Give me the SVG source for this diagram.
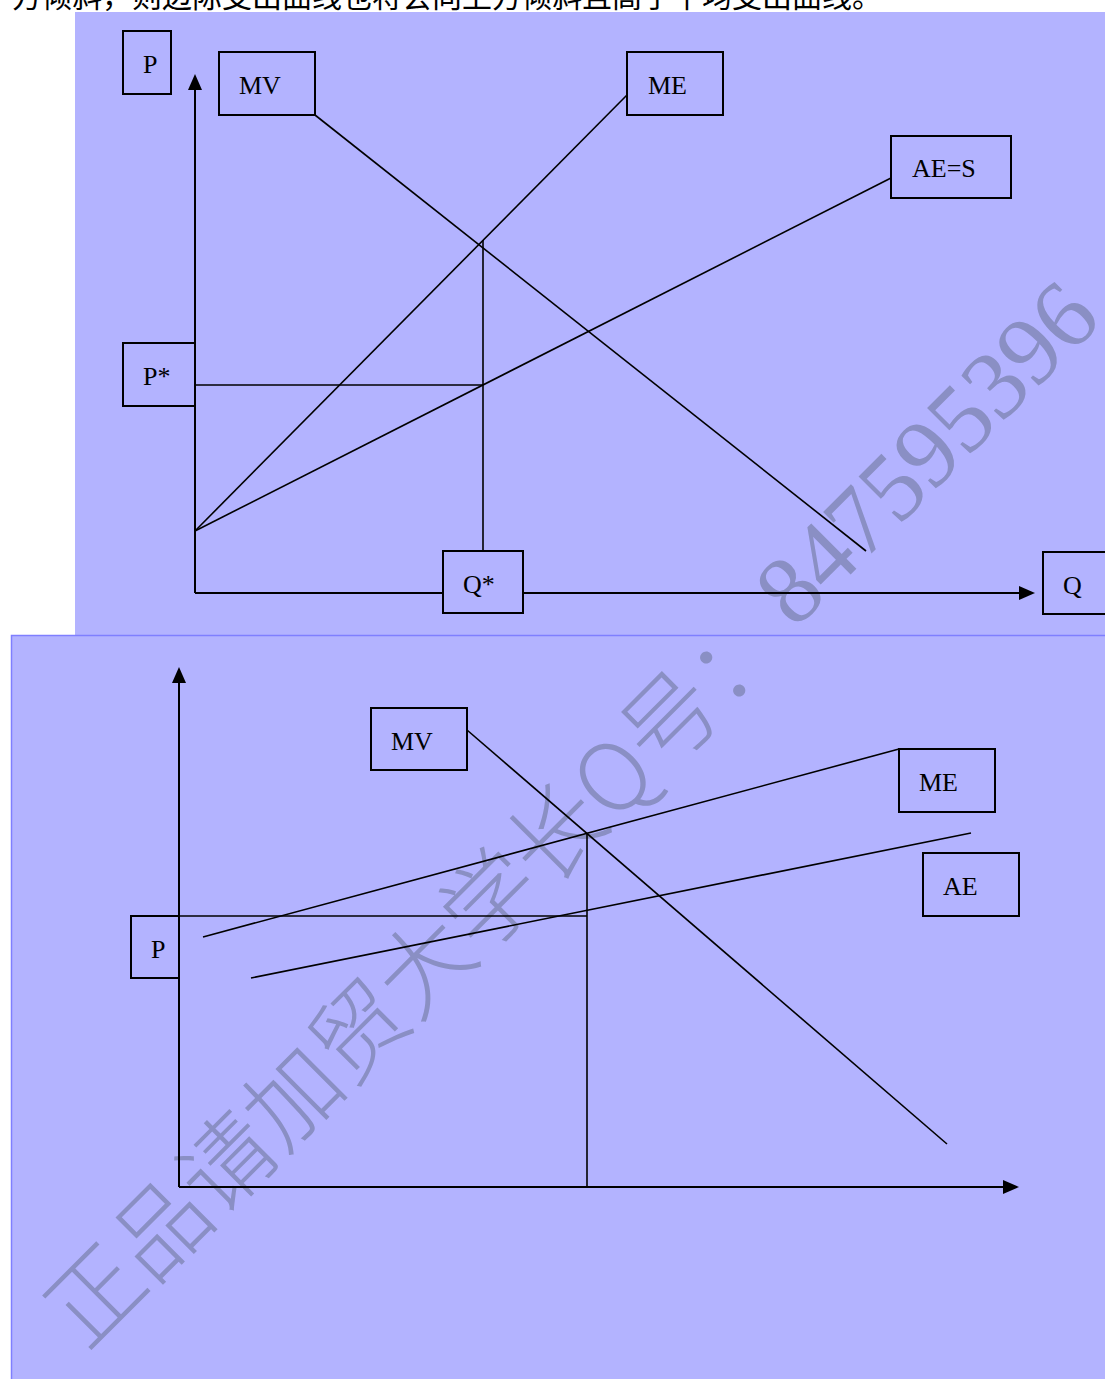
<svg xmlns="http://www.w3.org/2000/svg" width="1105" height="1379" viewBox="0 0 1105 1379">
<style>
.bg{fill:#b3b3ff}
.box{fill:none;stroke:#000;stroke-width:2}
.lbl{font-family:"Liberation Serif","Times New Roman",serif;font-size:26px;fill:#000}
.ln{fill:none;stroke:#000;stroke-width:1.6}
.ax{fill:none;stroke:#000;stroke-width:2}
.ah{fill:#000}
.wmc{font-family:"Noto Sans CJK SC","Noto Sans CJK TC",sans-serif;font-size:94px;font-weight:300;fill:#8a8fc4}
.wmd{font-family:"Liberation Serif","Times New Roman",serif;font-size:97px;fill:#8a8fc4}
.cap{font-family:"Noto Sans CJK SC","Noto Sans CJK TC",sans-serif;font-size:30px;fill:#000}
</style>
<rect width="1105" height="1379" fill="#fff"/>
<text class="cap" x="12" y="7">方倾斜，则边际支出曲线也将会向上方倾斜且高于平均支出曲线。</text>
<rect class="bg" x="75" y="12" width="1030" height="623"/>
<rect class="bg" x="11" y="635" width="1094" height="744"/>
<path d="M11.5 1379 V635.5 H1105" fill="none" stroke="#7f7fff" stroke-width="1.5"/>
<g id="watermark">
  <text class="wmc" x="86" y="1352" transform="rotate(-45 86 1352)" textLength="1000" lengthAdjust="spacing">正品请加贸大学长Q号：</text>
  <text class="wmd" x="795" y="630" transform="rotate(-45 795 630)">847595396</text>
</g>
<g id="connectors">
  <line class="ax" x1="195" y1="593" x2="195" y2="88"/>
  <polygon class="ah" points="195,74 188,90 202,90"/>
  <line class="ax" x1="195" y1="593" x2="443" y2="593"/>
  <line class="ax" x1="523" y1="593" x2="1021" y2="593"/>
  <polygon class="ah" points="1035,593 1019,586 1019,600"/>
  <line class="ln" x1="315" y1="115" x2="866" y2="551"/>
  <line class="ln" x1="627" y1="95" x2="195" y2="531"/>
  <line class="ln" x1="891" y1="178" x2="195" y2="531"/>
  <line class="ln" x1="195" y1="385" x2="483" y2="385"/>
  <line class="ln" x1="483" y1="240" x2="483" y2="551"/>
  <line class="ax" x1="179" y1="1187" x2="179" y2="681"/>
  <polygon class="ah" points="179,667 172,683 186,683"/>
  <line class="ax" x1="179" y1="1187" x2="1005" y2="1187"/>
  <polygon class="ah" points="1019,1187 1003,1180 1003,1194"/>
  <line class="ln" x1="467" y1="730" x2="947" y2="1144"/>
  <line class="ln" x1="899" y1="749" x2="203" y2="937"/>
  <line class="ln" x1="971" y1="833" x2="251" y2="978"/>
  <line class="ln" x1="179" y1="916" x2="587" y2="916"/>
  <line class="ln" x1="587" y1="833" x2="587" y2="1187"/>
</g>
<g id="top-P"><rect class="box" x="123" y="31" width="48" height="63"/><text class="lbl" x="143" y="73">P</text></g>
<g id="top-MV"><rect class="box" x="219" y="52" width="96" height="63"/><text class="lbl" x="239" y="94">MV</text></g>
<g id="top-ME"><rect class="box" x="627" y="52" width="96" height="63"/><text class="lbl" x="648" y="94">ME</text></g>
<g id="top-AES"><rect class="box" x="891" y="136" width="120" height="62"/><text class="lbl" x="912" y="177">AE=S</text></g>
<g id="top-Pstar"><rect class="box" x="123" y="343" width="72" height="63"/><text class="lbl" x="143" y="385">P*</text></g>
<g id="top-Qstar"><rect class="box" x="443" y="551" width="80" height="62"/><text class="lbl" x="463" y="593">Q*</text></g>
<g id="top-Q"><rect class="box" x="1043" y="552" width="80" height="62"/><text class="lbl" x="1063" y="594">Q</text></g>
<g id="bot-MV"><rect class="box" x="371" y="708" width="96" height="62"/><text class="lbl" x="391" y="750">MV</text></g>
<g id="bot-ME"><rect class="box" x="899" y="749" width="96" height="63"/><text class="lbl" x="919" y="791">ME</text></g>
<g id="bot-AE"><rect class="box" x="923" y="853" width="96" height="63"/><text class="lbl" x="943" y="895">AE</text></g>
<g id="bot-P"><rect class="box" x="131" y="916" width="48" height="62"/><text class="lbl" x="151" y="958">P</text></g>
</svg>
